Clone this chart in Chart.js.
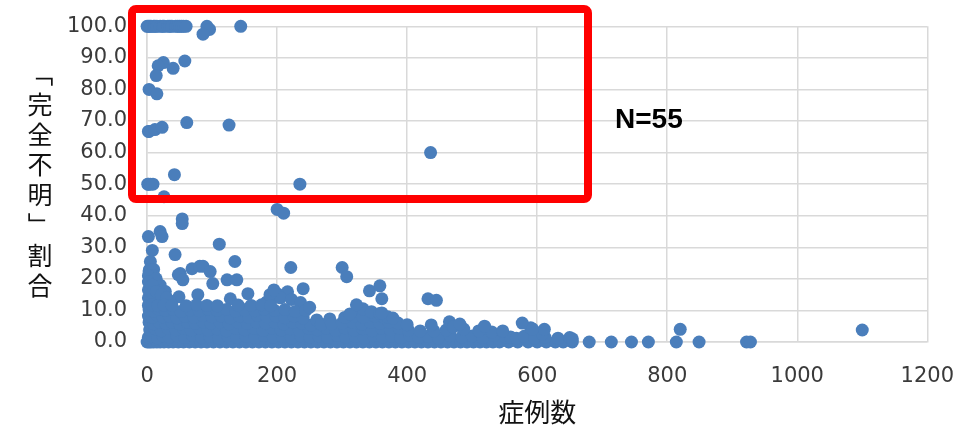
<!DOCTYPE html>
<html>
<head>
<meta charset="utf-8">
<script src="https://cdn.jsdelivr.net/npm/chart.js@4"></script>
<style>
	html, body { margin: 0; padding: 0; background: #fff; }
	#wrap { width: 976px; height: 428px; }
</style>
</head>
<body>
<div id="wrap"><canvas id="chart" width="976" height="428"></canvas></div>
<script>
// 症例数 (x) と「完全不明」割合 (y) — 図から読み取った値
// 赤枠内 (割合 45% 以上)
const boxedPoints = [
	[0, 100], [2, 100], [4, 100], [6, 100], [10, 100], [12, 100], [15, 100], [20, 100],
	[24, 100], [26, 100], [32, 100], [35, 100], [38, 100], [44, 100], [47, 100], [50, 100],
	[53, 100], [56, 100], [60, 100], [92, 100], [96, 99], [86, 97.5], [144, 100],
	[58, 89], [25, 88.5], [17, 87.5], [40, 86.7], [14, 84.4],
	[3, 80], [15, 78.6],
	[2, 66.7], [3, 66.7], [12, 67.3], [23, 68], [61, 69.5], [126, 68.7],
	[436, 60],
	[1, 50], [2, 50], [5, 50], [9, 50], [42, 53], [235, 50],
	[26, 46],
];

// 中位 (12% 〜 45%)
const middlePoints = [
	[200, 42], [210, 40.8], [54, 39], [54, 37.5], [2, 33.4], [20, 35], [23, 33.4],
	[8, 29], [111, 31], [43, 27.7], [135, 25.5], [221, 23.6], [300, 23.6], [307, 20.7],
	[5, 25.5], [3, 22.5], [4, 23], [10, 23], [10, 21], [2, 21], [51, 21.7], [48, 21.3],
	[69, 23.2], [81, 24], [86, 24], [97, 22.3], [101, 18.5], [55, 19.7], [123, 19.7],
	[138, 19.7], [342, 16.2], [358, 17.8], [361, 13.7], [49, 14.3], [78, 15], [128, 13.7],
	[155, 15.3], [240, 16.9], [200, 15.3], [216, 15.9], [184, 12.7], [432, 13.7], [445, 13.2],
	[20, 18], [14, 20], [6, 17], [28, 16], [18, 14], [35, 13], [6, 14], [12, 12.5], [25, 12],
	[2, 14], [2, 16.5], [2, 19], [8, 18], [8, 15.5], [14, 16], [22, 15], [30, 14],
	[190, 13], [205, 14], [222, 13.5], [236, 12.5], [189, 15], [195, 16.5],
];

// 低位 (12% 未満)
const lowPoints = [
	// 0%
	[0, 0], [3, 0], [6, 0], [10, 0], [15, 0], [20, 0], [26, 0], [33, 0], [40, 0], [48, 0],
	[56, 0], [65, 0], [74, 0], [83, 0], [92, 0], [102, 0], [112, 0], [122, 0], [132, 0],
	[142, 0], [152, 0], [162, 0], [172, 0], [182, 0], [192, 0], [202, 0], [212, 0], [222, 0],
	[232, 0], [242, 0], [252, 0], [262, 0], [272, 0], [282, 0], [292, 0], [302, 0], [312, 0],
	[322, 0], [332, 0], [342, 0], [352, 0], [362, 0], [372, 0], [382, 0], [392, 0], [402, 0],
	[412, 0], [422, 0], [432, 0], [442, 0], [452, 0], [462, 0], [472, 0], [482, 0], [492, 0],
	[502, 0], [512, 0], [522, 0], [532, 0], [542, 0], [556, 0], [570, 0], [586, 0], [600, 0],
	[614, 0], [628, 0], [640, 0], [654, 0], [680, 0], [714, 0], [745, 0], [771, 0], [814, 0],
	[849, 0], [922, 0], [928, 0],
	// 1〜2%
	[2, 1.5], [8, 1.8], [16, 1.3], [24, 2], [34, 1.6], [46, 1.9], [58, 1.4], [70, 2.1],
	[84, 1.5], [96, 1.8], [110, 1.3], [124, 2], [138, 1.6], [152, 1.9], [166, 1.4], [180, 2.1],
	[194, 1.5], [208, 1.8], [222, 1.3], [236, 2], [250, 1.6], [264, 1.9], [278, 1.4], [292, 2.1],
	[306, 1.5], [320, 1.8], [334, 1.3], [348, 2], [362, 1.6], [376, 1.9], [390, 1.4], [404, 2.1],
	[418, 1.5], [432, 1.8], [448, 1.3], [466, 2], [484, 1.6], [500, 1.9], [516, 1.4], [534, 2.1],
	[552, 1.5], [559, 1.6], [568, 1.2], [580, 1.8], [596, 1.3], [612, 1.5], [632, 1.2], [650, 1.4],
	[654, 1],
	// 3〜5%
	[4, 3.8], [12, 4.2], [22, 3.6], [32, 4.4], [44, 3.9], [56, 4.3], [68, 3.7], [80, 4.5],
	[94, 3.8], [108, 4.2], [122, 3.6], [136, 4.4], [150, 3.9], [164, 4.3], [178, 3.7], [192, 4.5],
	[206, 3.8], [220, 4.2], [234, 3.6], [248, 4.4], [262, 3.9], [276, 4.3], [290, 3.7], [304, 4.5],
	[318, 3.8], [332, 4.2], [346, 3.6], [360, 4.4], [374, 3.9], [388, 4.3], [402, 3.7], [420, 3.5],
	[441, 3.5], [460, 3.8], [487, 4.1], [510, 3.5], [530, 3.2], [590, 4.5], [608, 2.5],
	[611, 4], [820, 4], [1100, 3.8],
	// 5〜7%
	[3, 6.2], [10, 5.8], [18, 6.4], [28, 6], [38, 6.3], [50, 5.7], [62, 6.2], [74, 5.9],
	[86, 6.4], [98, 6], [112, 6.3], [126, 5.7], [140, 6.2], [154, 5.9], [168, 6.4], [182, 6],
	[196, 6.3], [210, 5.7], [224, 6.2], [238, 5.9], [252, 5.4], [261, 7], [268, 5.6], [281, 7.3],
	[284, 5.8], [300, 6], [316, 6.3], [330, 5.7], [344, 6.2], [358, 5.9], [372, 6.4], [386, 6],
	[400, 5.5], [437, 5.4], [465, 6.4], [471, 4.8], [481, 5.7], [519, 5], [547, 3.5], [577, 6],
	[593, 4.1],
	// 7〜9%
	[2, 8.2], [8, 7.8], [16, 8.4], [24, 8], [34, 8.3], [46, 7.7], [58, 8.2], [72, 7.9],
	[86, 8.4], [100, 8], [114, 8.3], [128, 7.7], [142, 8.2], [156, 7.9], [170, 8.4], [184, 8],
	[198, 8.3], [212, 7.7], [226, 8.2], [240, 7.6], [304, 7.8], [318, 8.2], [332, 7.9], [350, 8.3],
	[364, 7.9], [370, 8], [378, 7.6],
	// 9〜12%
	[3, 10.2], [10, 9.8], [18, 10.4], [28, 10], [40, 10.3], [52, 9.7], [66, 10.2], [80, 9.9],
	[94, 10.4], [108, 10], [122, 10.3], [136, 9.7], [150, 10.2], [166, 9.9], [180, 10.4],
	[196, 10], [212, 10.3], [228, 9.7], [244, 10], [312, 8.9], [332, 10.5], [345, 9.6],
	[358, 9], [361, 9.2],
	[2, 11.6], [8, 11.8], [16, 11.5], [26, 11.7], [38, 11.6], [60, 11.5], [76, 11.8], [92, 11.6],
	[108, 11.5], [140, 11.7], [160, 11.6], [176, 11.8], [190, 11.5], [250, 11], [322, 11.8],
];

const groups = [boxedPoints, middlePoints, lowPoints];

const xTickStep = 200;
const yTickStep = 10;
const yTitleChars = ['「', '完', '全', '不', '明', '」', '割', '合'];
const xTitle = '症例数';
const noteText = 'N=55';

const points = [];
groups.forEach((g) => {
	g.forEach(([x, y]) => points.push({ x, y }));
});

// 縦書きのY軸タイトル・赤枠・N=55
const overlayPlugin = {
	id: 'overlay',
	afterDraw(chart) {
		const ctx = chart.ctx;
		ctx.save();

		ctx.fillStyle = '#111';
		ctx.font = '25px "Noto Sans CJK JP"';
		ctx.textAlign = 'center';
		ctx.textBaseline = 'middle';
		yTitleChars.forEach((ch, i) => {
			const y = 74 + i * 30.2;
			if (ch === '「' || ch === '」') {
				// 括弧は縦書き用に90度回転
				ctx.save();
				ctx.translate(40, y);
				ctx.rotate(Math.PI / 2);
				ctx.fillText(ch, 0, 0);
				ctx.restore();
			} else {
				ctx.fillText(ch, 40, y);
			}
		});

		ctx.strokeStyle = '#ff0000';
		ctx.lineWidth = 8;
		ctx.lineJoin = 'round';
		ctx.beginPath();
		ctx.roundRect(132, 9, 456, 190, 4);
		ctx.stroke();

		ctx.fillStyle = '#000';
		ctx.font = 'bold 28px "Liberation Sans"';
		ctx.textAlign = 'left';
		ctx.fillText(noteText, 615, 120);

		ctx.restore();
	},
};

new Chart(document.getElementById('chart'), {
	type: 'scatter',
	data: {
		datasets: [
			{
				data: points,
				backgroundColor: '#4a7ebb',
				borderColor: '#4a7ebb',
				borderWidth: 0,
				pointRadius: 6.5,
				pointHoverRadius: 6.5,
				clip: false,
			},
		],
	},
	options: {
		responsive: false,
		animation: false,
		layout: {
			padding: { left: 47, right: 48, top: 16, bottom: 0 },
		},
		plugins: {
			legend: { display: false },
			tooltip: { enabled: false },
		},
		scales: {
			x: {
				type: 'linear',
				min: 0,
				max: 1200,
				grid: { color: '#d9d9d9', lineWidth: 1.5, drawTicks: false },
				border: { color: '#d9d9d9', width: 1.5 },
				ticks: {
					stepSize: xTickStep,
					padding: 22,
					color: '#3a3a3a',
					font: { family: 'DejaVu Sans', size: 21 },
					callback: (v) => String(v),
				},
				title: {
					display: true,
					text: xTitle,
					color: '#111',
					font: { family: 'Noto Sans CJK JP', size: 26 },
					padding: { top: -14.8, bottom: 0.4 },
				},
			},
			y: {
				min: 0,
				max: 100,
				grid: { color: '#d9d9d9', lineWidth: 1.5, drawTicks: false },
				border: { color: '#d9d9d9', width: 1.5 },
				ticks: {
					stepSize: yTickStep,
					padding: 20,
					color: '#3a3a3a',
					font: { family: 'DejaVu Sans', size: 21, lineHeight: 0.6 },
					callback: (v) => v.toFixed(1),
				},
			},
		},
	},
	plugins: [overlayPlugin],
});
</script>
</body>
</html>
